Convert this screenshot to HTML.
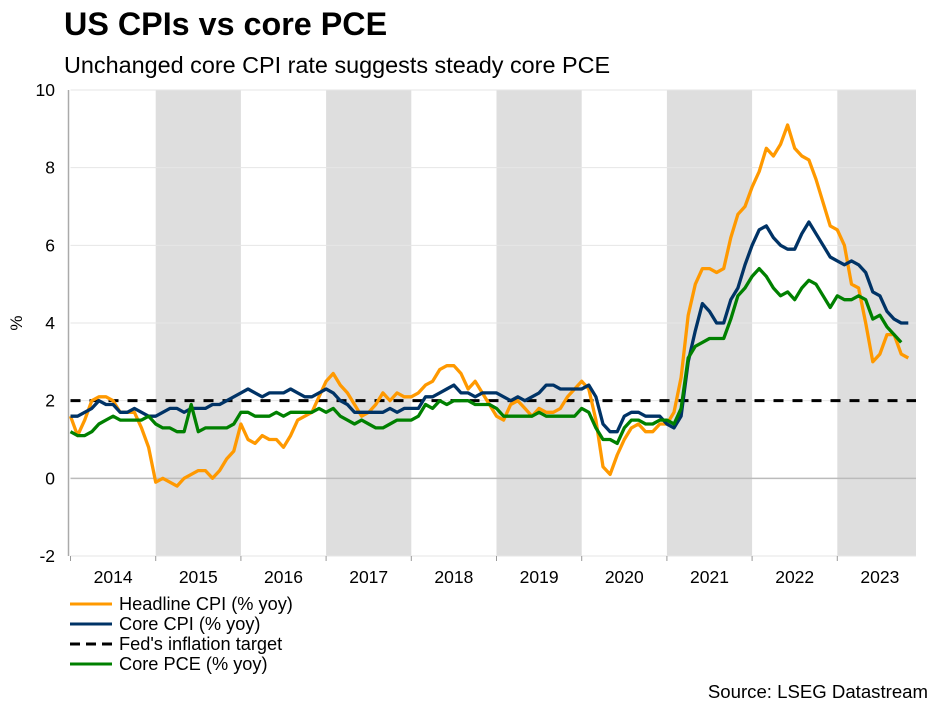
<!DOCTYPE html>
<html><head><meta charset="utf-8"><style>
body{margin:0;background:#fff;font-family:"Liberation Sans",Arial,sans-serif;}
#wrap{position:relative;width:941px;height:706px;overflow:hidden;}
</style></head><body>
<div id="wrap">
<svg id="chart" width="941" height="706" xmlns="http://www.w3.org/2000/svg">
<text x="64" y="35" font-size="32.3" font-weight="bold" fill="#000">US CPIs vs core PCE</text>
<text x="64" y="73" font-size="23.4" fill="#000">Unchanged core CPI rate suggests steady core PCE</text>
<g id="bands"></g><g id="grid"></g><g id="axes"></g><g id="series"></g><g id="legend"></g>
<text x="928" y="698" font-size="18.6" text-anchor="end" fill="#000">Source: LSEG Datastream</text>
</svg>
</div>
<script>
const years=[2014,2015,2016,2017,2018,2019,2020,2021,2022,2023];
const yTicks=[-2,0,2,4,6,8,10];
const headlineCPI=[1.6,1.1,1.5,2.0,2.1,2.1,2.0,1.7,1.7,1.7,1.3,0.8,
-0.1,0.0,-0.1,-0.2,0.0,0.1,0.2,0.2,0.0,0.2,0.5,0.7,
1.4,1.0,0.9,1.1,1.0,1.0,0.8,1.1,1.5,1.6,1.7,2.1,
2.5,2.7,2.4,2.2,1.9,1.6,1.7,1.9,2.2,2.0,2.2,2.1,
2.1,2.2,2.4,2.5,2.8,2.9,2.9,2.7,2.3,2.5,2.2,1.9,
1.6,1.5,1.9,2.0,1.8,1.6,1.8,1.7,1.7,1.8,2.1,2.3,
2.5,2.3,1.5,0.3,0.1,0.6,1.0,1.3,1.4,1.2,1.2,1.4,
1.4,1.7,2.6,4.2,5.0,5.4,5.4,5.3,5.4,6.2,6.8,7.0,
7.5,7.9,8.5,8.3,8.6,9.1,8.5,8.3,8.2,7.7,7.1,6.5,
6.4,6.0,5.0,4.9,4.0,3.0,3.2,3.7,3.7,3.2,3.1];
const coreCPI=[1.6,1.6,1.7,1.8,2.0,1.9,1.9,1.7,1.7,1.8,1.7,1.6,
1.6,1.7,1.8,1.8,1.7,1.8,1.8,1.8,1.9,1.9,2.0,2.1,
2.2,2.3,2.2,2.1,2.2,2.2,2.2,2.3,2.2,2.1,2.1,2.2,
2.3,2.2,2.0,1.9,1.7,1.7,1.7,1.7,1.7,1.8,1.7,1.8,
1.8,1.8,2.1,2.1,2.2,2.3,2.4,2.2,2.2,2.1,2.2,2.2,
2.2,2.1,2.0,2.1,2.0,2.1,2.2,2.4,2.4,2.3,2.3,2.3,
2.3,2.4,2.1,1.4,1.2,1.2,1.6,1.7,1.7,1.6,1.6,1.6,
1.4,1.3,1.6,3.0,3.8,4.5,4.3,4.0,4.0,4.6,4.9,5.5,
6.0,6.4,6.5,6.2,6.0,5.9,5.9,6.3,6.6,6.3,6.0,5.7,
5.6,5.5,5.6,5.5,5.3,4.8,4.7,4.3,4.1,4.0,4.0];
const corePCE=[1.2,1.1,1.1,1.2,1.4,1.5,1.6,1.5,1.5,1.5,1.5,1.6,
1.4,1.3,1.3,1.2,1.2,1.9,1.2,1.3,1.3,1.3,1.3,1.4,
1.7,1.7,1.6,1.6,1.6,1.7,1.6,1.7,1.7,1.7,1.7,1.8,
1.7,1.8,1.6,1.5,1.4,1.5,1.4,1.3,1.3,1.4,1.5,1.5,
1.5,1.6,1.9,1.8,2.0,1.9,2.0,2.0,2.0,1.9,1.9,1.9,
1.8,1.6,1.6,1.6,1.6,1.6,1.7,1.6,1.6,1.6,1.6,1.6,
1.8,1.7,1.3,1.0,1.0,0.9,1.3,1.5,1.5,1.4,1.4,1.5,
1.5,1.4,1.8,3.1,3.4,3.5,3.6,3.6,3.6,4.1,4.7,4.9,
5.2,5.4,5.2,4.9,4.7,4.8,4.6,4.9,5.1,5.0,4.7,4.4,
4.7,4.6,4.6,4.7,4.6,4.1,4.2,3.9,3.7,3.5];
const fedTarget=2;

const NS="http://www.w3.org/2000/svg";
const L=70.5,R=916,T=90,B=556,YW=85.2;
const xm=i=>L+i*YW/12;
const yv=v=>B-(v+2)/12*(B-T);
function mk(tag,attrs,parent){const e=document.createElementNS(NS,tag);for(const k in attrs)e.setAttribute(k,attrs[k]);parent.appendChild(e);return e;}
const bands=document.getElementById('bands'),grid=document.getElementById('grid'),axes=document.getElementById('axes'),series=document.getElementById('series'),legend=document.getElementById('legend');
years.forEach((y,i)=>{
  const x0=L+i*YW;
  if(i%2===1){const r=mk('rect',{x:x0,y:T,width:Math.min(YW,R-x0),height:B-T,fill:'#dedede'},bands);
    
    }
  const t=mk('text',{x:x0+YW/2,y:583,'font-size':17.5,'text-anchor':'middle',fill:'#000'},axes);t.textContent=y;
  
  
  mk('line',{x1:x0,x2:x0,y1:B,y2:B+5,stroke:'#999'},axes);
});
yTicks.forEach(v=>{
  const y=yv(v);
  const g=mk('line',{x1:L,x2:R,y1:y,y2:y,stroke:v===0?'#bbb':'#e6e6e6','stroke-width':v===0?1.5:1},grid);
  
  
  const t=mk('text',{x:55,y:y+6,'font-size':17.5,'text-anchor':'end',fill:'#000'},axes);t.textContent=v;
  
  
});
const ax=mk('line',{x1:L-2,x2:L-2,y1:T,y2:B,stroke:'#aaa','stroke-width':1.5},axes);


const yt=mk('text',{x:0,y:0,'font-size':17,'text-anchor':'middle',transform:'translate(22,323) rotate(-90)'},axes);yt.textContent='%';



function line(data,color,name){
  const d=data.map((v,i)=>(i?'L':'M')+xm(i).toFixed(1)+' '+yv(v).toFixed(1)).join(' ');
  const p=mk('path',{d:d,fill:'none',stroke:color,'stroke-width':3.3,'stroke-linejoin':'round'},series);
  
  
}
const tl=mk('line',{x1:L,x2:R,y1:yv(fedTarget),y2:yv(fedTarget),stroke:'#000','stroke-width':3,'stroke-dasharray':'10,9'},series);


line(headlineCPI,'#ff9900','headline-cpi-line');
line(coreCPI,'#003366','core-cpi-line');
line(corePCE,'#008000','core-pce-line');

const leg=[['Headline CPI (% yoy)','#ff9900',false],['Core CPI (% yoy)','#003366',false],["Fed's inflation target",'#000',true],['Core PCE (% yoy)','#008000',false]];
leg.forEach((e,i)=>{
  const y=604+i*20;
  const g=mk('g',{},legend);
  
  
  const a={x1:70,x2:112,y1:y,y2:y,stroke:e[1],'stroke-width':3};if(e[2])a['stroke-dasharray']='10,6';
  mk('line',a,g);
  const t=mk('text',{x:119,y:y+6,'font-size':18.2,fill:'#000'},g);t.textContent=e[0];
});
</script>
</body></html>
